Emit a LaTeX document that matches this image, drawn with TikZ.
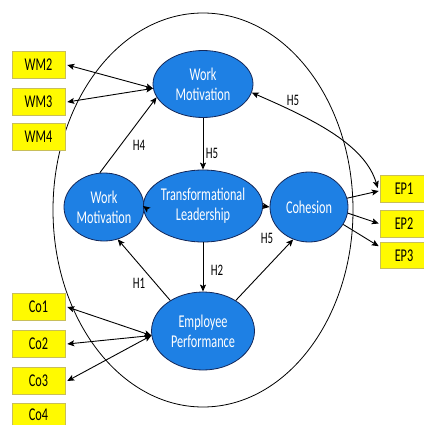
\documentclass[tikz,border=0pt]{standalone}
\usepackage{fontspec}
\setmainfont{Carlito}
\newfontfamily\narrowfont[FakeStretch=0.68]{Carlito}
\usetikzlibrary{shapes.geometric,arrows.meta}
\definecolor{nodeblue}{RGB}{30,128,228}
\definecolor{nodeedge}{RGB}{20,40,90}
\definecolor{boxyellow}{RGB}{255,250,0}
\definecolor{boxedge}{RGB}{200,190,90}
\tikzset{
  latent/.style={ellipse, draw=nodeedge, line width=0.8pt, fill=nodeblue, text=white,
    inner sep=0pt, align=center, font=\narrowfont\fontsize{18}{20}\selectfont},
  indic/.style={rectangle, draw=boxedge, line width=0.5pt, fill=boxyellow, inner sep=0pt,
    minimum width=53pt, minimum height=27pt, font=\narrowfont\fontsize{18}{20}\selectfont},
  conn/.style={draw=black, line width=0.9pt},
  tip/.style={-{Stealth[length=7pt,width=6pt,inset=1.5pt]}},
  bitip/.style={{Stealth[length=7pt,width=6pt,inset=1.5pt]}-{Stealth[length=7pt,width=6pt,inset=1.5pt]}},
  hlabel/.style={font=\narrowfont\fontsize{16}{18}\selectfont, inner sep=0pt}
}
\begin{document}
\begin{tikzpicture}[x=1pt,y=-1pt]
\useasboundingbox (0,0) rectangle (423,425);
% outer ellipse
\draw[line width=0.8pt] (203,210) ellipse [x radius=150, y radius=197];
% latent nodes
\node[latent, minimum width=100pt, minimum height=67pt] (WMt) at (203,84) {Work\\Motivation};
\node[latent, minimum width=80pt, minimum height=68pt] (WMl) at (104,207) {Work\\Motivation};
\node[latent, minimum width=104pt, minimum height=72pt] (TL) at (203,206) {Transformational\\Leadership};
\node[latent, minimum width=78pt, minimum height=70pt] (Coh) at (309,207) {Cohesion};
\node[latent, minimum width=103pt, minimum height=78pt] (EP) at (203,331) {Employee\\Performance};
% indicators
\node[indic] (WM2) at (38.5,65) {WM2};
\node[indic] (WM3) at (38.5,102) {WM3};
\node[indic] (WM4) at (38.5,137) {WM4};
\node[indic] (Co1) at (38.5,307) {Co1};
\node[indic] (Co2) at (38.5,344) {Co2};
\node[indic] (Co3) at (38.5,381) {Co3};
\node[indic, minimum height=23pt] (Co4) at (38.5,414.5) {Co4};
\node[indic, minimum width=48pt] (EP1) at (404,189) {EP1};
\node[indic, minimum width=48pt, minimum height=27pt] (EP2) at (404,223.5) {EP2};
\node[indic, minimum width=48pt, minimum height=26pt] (EP3) at (404,255.5) {EP3};
% connectors
\draw[conn,bitip] ([xshift=2pt]WM2.east) -- (WMt.185);
\draw[conn,bitip] ([xshift=2pt]WM3.east) -- (WMt.185);
\draw[conn,tip] (WMl.97) -- (WMt.196);
\draw[conn,tip] (WMt.south) -- (TL.north);
\draw[conn,tip] (WMl.east) -- (TL.west);
\draw[conn,tip,line width=1.6pt] (TL.east) -- (Coh.west);
\draw[conn,tip] (TL.south) -- (EP.north);
\draw[conn,tip] (EP.137) -- (WMl.293);
\draw[conn,tip] (EP.43) -- (Coh.244);
\draw[conn,tip] (Coh.13) -- ([xshift=-1pt,yshift=-2pt]EP1.west);
\draw[conn,tip] (Coh.351) -- ([xshift=-1pt]EP2.west);
\draw[conn,tip] (Coh.333) -- ([xshift=-1pt,yshift=-4pt]EP3.north west);
\draw[conn,bitip] ([xshift=2pt]Co1.east) -- (EP.185);
\draw[conn,bitip] ([xshift=2pt]Co2.east) -- (EP.185);
\draw[conn,bitip] ([xshift=2pt]Co3.east) -- (EP.185);
\draw[conn,bitip] (WMt.350) .. controls (315,120) and (365,145) .. ([xshift=-2pt,yshift=1pt]EP1.west);
% labels
\node[hlabel] (h4) at (139,145) {H4};
\node[hlabel] (h5a) at (212,153) {H5};
\node[hlabel] (h5b) at (293,100) {H5};
\node[hlabel] (h2) at (217,270) {H2};
\node[hlabel] (h1) at (139,283) {H1};
\node[hlabel] (h5c) at (267,238) {H5};
\end{tikzpicture}
\end{document}
